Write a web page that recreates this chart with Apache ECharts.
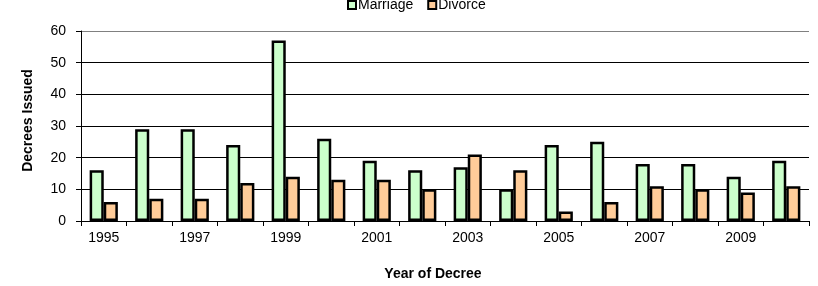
<!DOCTYPE html>
<html>
<head>
<meta charset="utf-8">
<script src="https://cdn.jsdelivr.net/npm/echarts@6/dist/echarts.min.js"></script>
<style>
html,body{margin:0;padding:0;background:#fff;}
#chart{width:818px;height:286px;}
</style>
</head>
<body>
<div id="chart"></div>
<script>
var years = ['1995','1996','1997','1998','1999','2000','2001','2002','2003','2004','2005','2006','2007','2008','2009','2010'];
var marriage = [16,29,29,24,57,26,19,16,17,10,24,25,18,18,14,19];
var divorce = [6,7,7,12,14,13,13,10,21,16,3,6,11,10,9,11];
var yTicks = [0,10,20,30,40,50,60];

var FONT = '"Liberation Sans", Arial, sans-serif';
var chart = echarts.init(document.getElementById('chart'), null, {renderer:'canvas'});
chart.setOption({
  animation:false,
  backgroundColor:'#fff',
  textStyle:{fontFamily:FONT, color:'#000'},
  legend:{
    left:342, top:-7,
    itemWidth:8, itemHeight:8, itemGap:14,
    icon:'rect',
    textStyle:{fontFamily:FONT, fontSize:14, color:'#000', padding:[0,0,0,-3]},
    data:[{name:'Marriage', itemStyle:{borderColor:'#000', borderWidth:2}},
          {name:'Divorce', itemStyle:{borderColor:'#000', borderWidth:2}}]
  },
  grid:{left:81, right:9, top:31, bottom:63, containLabel:false},
  xAxis:{
    type:'category', data:years, boundaryGap:true,
    name:'Year of Decree', nameLocation:'middle', nameGap:46,
    nameTextStyle:{fontFamily:FONT, fontSize:14, fontWeight:'bold', color:'#000', padding:[0,24,0,0]},
    axisLine:{lineStyle:{color:'#000', width:1}},
    axisTick:{show:true, interval:0, length:5, lineStyle:{color:'#000'}},
    axisLabel:{interval:1, margin:10, fontFamily:FONT, fontSize:14, color:'#000'}
  },
  yAxis:{
    type:'value', min:0, max:60, interval:10,
    name:'Decrees Issued', nameLocation:'middle', nameGap:46, nameRotate:90,
    nameTextStyle:{fontFamily:FONT, fontSize:14, fontWeight:'bold', color:'#000', padding:[0,0,0,11]},
    axisLine:{show:true, lineStyle:{color:'#000', width:1}},
    axisTick:{show:true, length:5, lineStyle:{color:'#000'}},
    axisLabel:{margin:15, fontFamily:FONT, fontSize:14, color:'#000',
      formatter:function(v){ return yTicks.indexOf(v)>=0 ? String(v) : ''; }},
    splitLine:{show:true, lineStyle:{color:['#000','#000','#000','#000','#000','#000','#808080'], width:1}}
  },
  series:[
    {name:'Marriage', type:'bar', data:marriage, barGap:'0%', barCategoryGap:'38%',
     itemStyle:{color:'#ccffcc', borderColor:'#000', borderWidth:2.5}},
    {name:'Divorce', type:'bar', data:divorce, barGap:'0%', barCategoryGap:'38%',
     itemStyle:{color:'#ffcc99', borderColor:'#000', borderWidth:2.5}}
  ]
});
</script>
</body>
</html>
